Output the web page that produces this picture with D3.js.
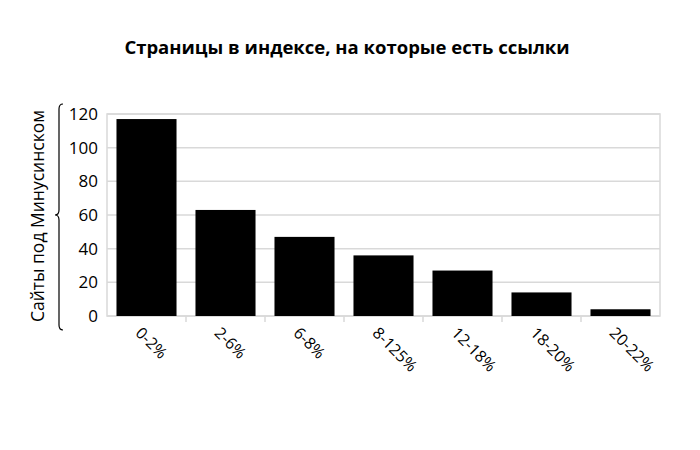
<!DOCTYPE html>
<html><head><meta charset="utf-8">
<script src="https://cdn.jsdelivr.net/npm/d3@7"></script>
<style>body{margin:0;background:#fff;} text{font-family:"Open Sans","Noto Sans",sans-serif;}</style>
</head><body><svg id="c" width="700" height="450"></svg>
<script>
const categories = ["0-2%","2-6%","6-8%","8-125%","12-18%","18-20%","20-22%"];
const values = [117, 63, 47, 36, 27, 14, 4];
const yTicks = [0,20,40,60,80,100,120];
const title = "Страницы в индексе, на которые есть ссылки";
const yTitle = "Сайты под Минусинском";

const svg = d3.select("#c");
const m = {left:107, right:660, top:114, bottom:316};
const x = d3.scaleBand().domain(categories).range([m.left, m.right]).paddingInner(0.24).paddingOuter(0.12);
const y = d3.scaleLinear().domain([0,120]).range([m.bottom, m.top]);

svg.append("rect").attr("width",700).attr("height",450).attr("fill","#fff");
svg.append("text").attr("x",347).attr("y",54).attr("text-anchor","middle")
  .attr("font-size",18.5).attr("font-weight","bold").text(title);

// grid
svg.append("g").selectAll("line").data(yTicks).join("line")
  .attr("x1",m.left).attr("x2",m.right).attr("y1",d=>y(d)).attr("y2",d=>y(d))
  .attr("stroke","#d9d9d9").attr("stroke-width",1.5);
svg.append("rect").attr("x",m.left).attr("y",m.top).attr("width",m.right-m.left).attr("height",m.bottom-m.top)
  .attr("fill","none").attr("stroke","#d9d9d9").attr("stroke-width",1.5);

// bars
svg.append("g").selectAll("rect").data(values).join("rect")
  .attr("x",(d,i)=>x(categories[i])).attr("width",x.bandwidth())
  .attr("y",d=>y(d)).attr("height",d=>y(0)-y(d)).attr("fill","#000");

// x ticks between categories
const step = x.step();
svg.append("g").selectAll("line").data(categories.slice(1)).join("line")
  .attr("x1",d=>x(d)-(step-x.bandwidth())/2).attr("x2",d=>x(d)-(step-x.bandwidth())/2)
  .attr("y1",m.bottom).attr("y2",m.bottom+6).attr("stroke","#d9d9d9").attr("stroke-width",1.5);

// y labels
svg.append("g").selectAll("text").data(yTicks).join("text")
  .attr("x",98).attr("y",d=>y(d)).attr("dy","0.35em").attr("text-anchor","end")
  .attr("font-size",17).text(d=>d);

// x labels
svg.append("g").selectAll("text").data(categories).join("text")
  .attr("transform",d=>`translate(${x(d)+x.bandwidth()/2-8},${m.bottom+14}) rotate(45)`)
  .attr("text-anchor","start").attr("dy","0.35em").attr("font-size",16).text(d=>d);

// y title
svg.append("text").attr("transform","translate(44,216) rotate(-90)").attr("text-anchor","middle")
  .attr("font-size",17.5).text(yTitle);

// brace
const bx=59, t=104, b=330, mid=215;
svg.append("path").attr("d",
  `M${bx+4},${t} Q${bx},${t} ${bx},${t+5} L${bx},${mid-5} Q${bx},${mid} ${bx-4},${mid} Q${bx},${mid} ${bx},${mid+5} L${bx},${b-5} Q${bx},${b} ${bx+4},${b}`)
  .attr("fill","none").attr("stroke","#000").attr("stroke-width",1.2);
</script></body></html>
